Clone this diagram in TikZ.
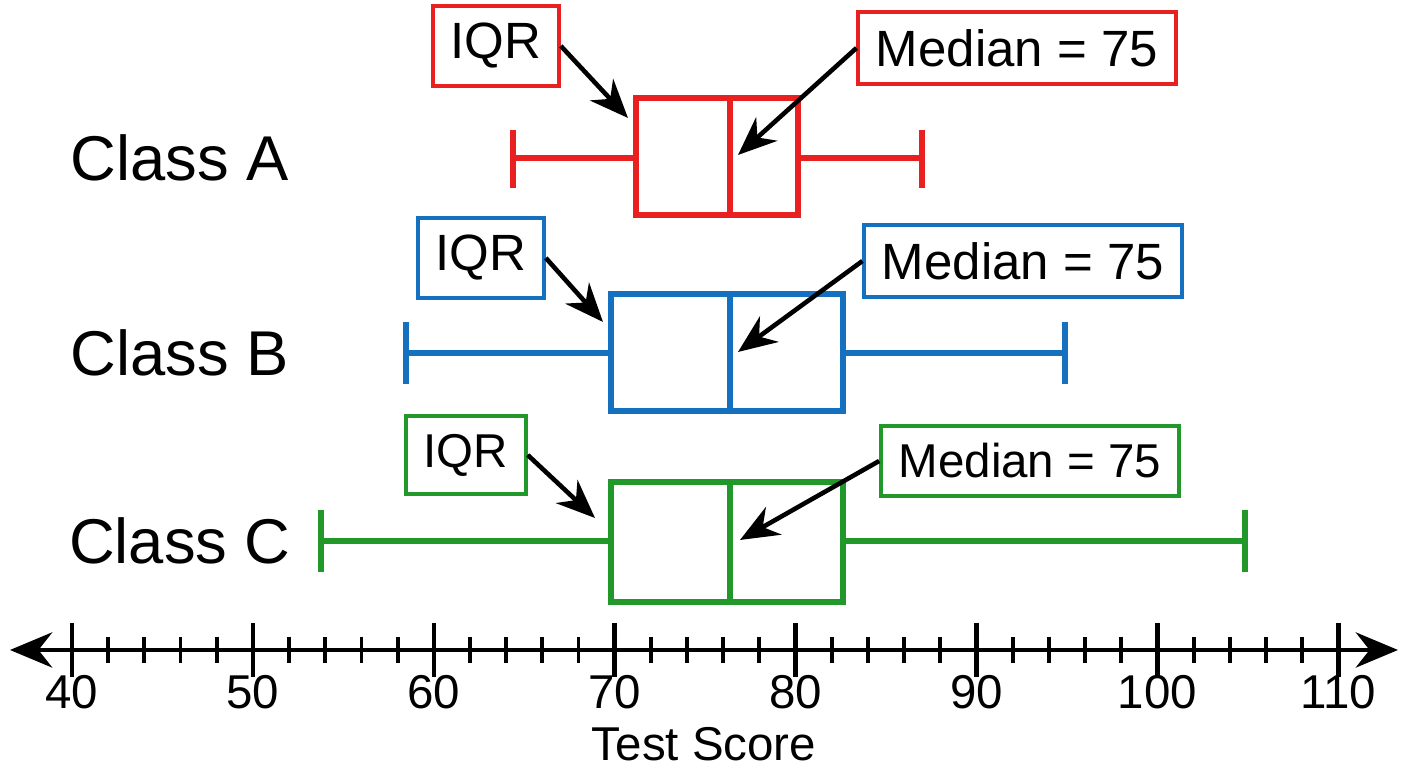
\documentclass[tikz,border=0pt]{standalone}
\usepackage{fontspec}
\setmainfont{Liberation Sans}
\usetikzlibrary{arrows.meta}
\definecolor{clsA}{RGB}{232,32,32}
\definecolor{clsB}{RGB}{22,112,192}
\definecolor{clsC}{RGB}{34,152,42}
\tikzset{
	plot/.style={line width=1.7pt},
	tag/.style={draw, line width=1.1pt, inner sep=5pt, font=\fontsize{14.5}{16}\selectfont},
	pointer/.style={-{Stealth[length=11pt,width=9pt]}, line width=1.3pt, black},
	classname/.style={font=\fontsize{18}{21}\selectfont}
}
\begin{document}
\begin{tikzpicture}[x=0.01cm,y=-0.01cm]
	\useasboundingbox (0,0) rectangle (1408,768);
	
	\def\xl{72}        
	\def\unit{18.09}   
	\def\yaxis{650}
	
	% axis
	\coordinate (axL) at (10,\yaxis);
	\coordinate (axR) at (1398,\yaxis);
	\draw[line width=1.3pt, {Stealth[length=12pt,width=10pt]}-{Stealth[length=12pt,width=10pt]}] (axL) -- (axR);
	\foreach \v in {40,42,...,110} {
		\pgfmathsetmacro{\xv}{\xl+(\v-40)*\unit}
		\draw[line width=1.1pt] (\xv,\yaxis-13) -- (\xv,\yaxis+13);
	}
	\foreach \v in {40,50,...,110} {
		\pgfmathsetmacro{\xv}{\xl+(\v-40)*\unit}
		\draw[line width=1.3pt] (\xv,\yaxis-27) -- (\xv,\yaxis+27);
		\node[font=\fontsize{13.5}{15}\selectfont] (t\v) at (\xv,692) {\v};
	}
	\node[font=\fontsize{13.5}{15}\selectfont] (xlabel) at (704,744) {Test Score};
	
	% class A
	\node[classname] (nameA) at (180,158) {Class A};
	\draw[plot, clsA] (513,130) -- (513,188) (513,158) -- (636,158) (798,158) -- (922,158) (922,130) -- (922,188);
	\draw[plot, clsA] (636,98) rectangle (798,215);
	\draw[plot, clsA] (730,98) -- (730,215);
	\node[tag, clsA, text=black] (iqrA) at (496,46) {IQR};
	\node[tag, clsA, text=black] (medA) at (1017,48) {Median = 75};
	\coordinate (qA) at (628,118);
	\coordinate (mA) at (738,155);
	\draw[pointer] (iqrA.east) -- (qA);
	\draw[pointer] (medA.west) -- (mA);
	
	% class B
	\node[classname] (nameB) at (180,353) {Class B};
	\draw[plot, clsB] (406,322) -- (406,384) (406,353) -- (611,353) (843,353) -- (1065,353) (1065,322) -- (1065,384);
	\draw[plot, clsB] (611,294) rectangle (843,411);
	\draw[plot, clsB] (730,294) -- (730,411);
	\node[tag, clsB, text=black] (iqrB) at (481,258) {IQR};
	\node[tag, clsB, text=black] (medB) at (1023,261) {Median = 75};
	\coordinate (qB) at (603,322);
	\coordinate (mB) at (738,352);
	\draw[pointer] (iqrB.east) -- (qB);
	\draw[pointer] (medB.west) -- (mB);
	
	% class C
	\node[classname] (nameC) at (180,541) {Class C};
	\draw[plot, clsC] (321,510) -- (321,572) (321,541) -- (611,541) (843,541) -- (1245,541) (1245,510) -- (1245,572);
	\draw[plot, clsC] (611,482) rectangle (843,602);
	\draw[plot, clsC] (730,482) -- (730,602);
	\node[tag, clsC, text=black, font=\fontsize{13.5}{15}\selectfont] (iqrC) at (466,455) {IQR};
	\node[tag, clsC, text=black, font=\fontsize{13.5}{15}\selectfont] (medC) at (1030,461) {Median = 75};
	\coordinate (qC) at (595,518);
	\coordinate (mC) at (740,540);
	\draw[pointer] (iqrC.east) -- (qC);
	\draw[pointer] (medC.west) -- (mC);
\end{tikzpicture}
\end{document}
